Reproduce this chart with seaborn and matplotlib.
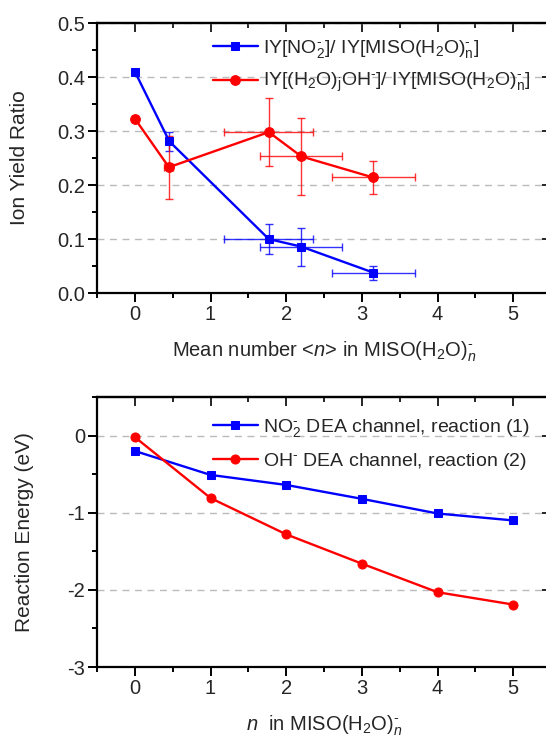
import matplotlib
matplotlib.use("Agg")
import matplotlib.pyplot as plt
import seaborn as sns
from matplotlib.ticker import MultipleLocator

# Top panel: ion yield ratios vs mean number <n>
no2_x = [0.0, 0.455, 1.77, 2.20, 3.15]
no2_y = [0.410, 0.281, 0.100, 0.086, 0.038]
no2_xerr = [0.0, 0.04, 0.59, 0.54, 0.55]
no2_yerr = [0.0, 0.018, 0.028, 0.035, 0.013]

oh_x = [0.0, 0.45, 1.77, 2.20, 3.15]
oh_y = [0.323, 0.233, 0.298, 0.253, 0.214]
oh_xerr = [0.0, 0.06, 0.59, 0.54, 0.55]
oh_yerr = [0.0, 0.058, 0.063, 0.072, 0.031]

# Bottom panel: reaction energies vs n
n_vals = [0, 1, 2, 3, 4, 5]
e_no2 = [-0.20, -0.51, -0.64, -0.82, -1.01, -1.10]
e_oh = [-0.02, -0.81, -1.28, -1.66, -2.03, -2.19]

sns.set_style("ticks")
plt.rcParams['font.family'] = ['Liberation Sans', 'DejaVu Sans']
plt.rcParams['mathtext.fontset'] = 'custom'
plt.rcParams['mathtext.rm'] = 'Liberation Sans'
plt.rcParams['mathtext.it'] = 'Liberation Sans:italic'
plt.rcParams['axes.unicode_minus'] = False

fig = plt.figure(figsize=(5.46, 7.42), dpi=100)
ax1 = fig.add_axes([0.1777, 0.605, 0.8315, 0.364])
ax2 = fig.add_axes([0.1777, 0.101, 0.8315, 0.364])


def style_axes(ax, xmaj, xmin, ymaj, ymin):
    for s in ax.spines.values():
        s.set_linewidth(1.6)
        s.set_color('black')
    ax.xaxis.set_major_locator(MultipleLocator(xmaj))
    ax.xaxis.set_minor_locator(MultipleLocator(xmin))
    ax.yaxis.set_major_locator(MultipleLocator(ymaj))
    ax.yaxis.set_minor_locator(MultipleLocator(ymin))
    ax.tick_params(which='both', direction='out', labelsize=14.5, width=1.4,
                   color='black', pad=2)
    ax.tick_params(which='major', length=6.5)
    ax.tick_params(which='minor', length=3.5)
    # mirrored ticks on top / right point inward
    top = ax.secondary_xaxis('top')
    top.xaxis.set_major_locator(MultipleLocator(xmaj))
    top.xaxis.set_minor_locator(MultipleLocator(xmin))
    right = ax.secondary_yaxis('right')
    right.yaxis.set_major_locator(MultipleLocator(ymaj))
    right.yaxis.set_minor_locator(MultipleLocator(ymin))
    for sec in (top, right):
        sec.tick_params(which='both', direction='in', width=1.4,
                        labeltop=False, labelright=False)
        sec.tick_params(which='major', length=6.5)
        sec.tick_params(which='minor', length=3.5)
        sec.spines[:].set_linewidth(1.6)
    ax.yaxis.grid(True, linestyle=(0, (5, 4)), color='#bbbbbb', linewidth=1)
    ax.xaxis.grid(False)
    ax.set_axisbelow(True)


leg_kw = dict(loc='upper left', frameon=False, fontsize=14, handlelength=2.3,
              handletextpad=0.3, labelspacing=0.6, borderaxespad=0.0)

# top panel
ax1.errorbar(no2_x, no2_y, xerr=no2_xerr, yerr=no2_yerr, fmt='none',
             ecolor='blue', elinewidth=1, capsize=3, alpha=0.8)
ax1.errorbar(oh_x, oh_y, xerr=oh_xerr, yerr=oh_yerr, fmt='none',
             ecolor='red', elinewidth=1, capsize=3, alpha=0.8)
sns.lineplot(x=no2_x, y=no2_y, ax=ax1, color='blue', marker='s', markersize=6,
             markeredgecolor='blue', linewidth=1.7,
             label=r'IY[NO$_2^{\text{-}}$]/ IY[MISO(H$_2$O)$_\mathrm{n}^{\text{-}}$]')
sns.lineplot(x=oh_x, y=oh_y, ax=ax1, color='red', marker='o', markersize=7,
             markeredgecolor='red', linewidth=1.7,
             label=r'IY[(H$_2$O)$_\mathrm{j}$OH$^{\text{-}}$]/ IY[MISO(H$_2$O)$_\mathrm{n}^{\text{-}}$]')
ax1.set_xlim(-0.5, 5.5)
ax1.set_ylim(0, 0.5)
style_axes(ax1, 1, 0.5, 0.1, 0.05)
ax1.set_yticks([0.0, 0.1, 0.2, 0.3, 0.4, 0.5])
ax1.set_yticklabels(['0.0', '0.1', '0.2', '0.3', '0.4', '0.5'])
ax1.set_xlabel(r'Mean number <$n$> in MISO(H$_2$O)$_n^{\text{-}}$', fontsize=14.5, labelpad=11)
ax1.set_ylabel('Ion Yield Ratio', fontsize=15, labelpad=20)
ax1.legend(bbox_to_anchor=(0.238, 0.975), **leg_kw)

# bottom panel
sns.lineplot(x=n_vals, y=e_no2, ax=ax2, color='blue', marker='s', markersize=6,
             markeredgecolor='blue', linewidth=1.7,
             label=r'NO$_2^{\text{-}}$ DEA channel, reaction (1)')
sns.lineplot(x=n_vals, y=e_oh, ax=ax2, color='red', marker='o', markersize=6.5,
             markeredgecolor='red', linewidth=1.7,
             label=r'OH$^{\text{-}}$ DEA channel, reaction (2)')
ax2.set_xlim(-0.5, 5.5)
ax2.set_ylim(-3, 0.5)
style_axes(ax2, 1, 0.5, 1, 0.5)
ax2.set_xlabel(r'$n$  in MISO(H$_2$O)$_n^{\text{-}}$', fontsize=14.5, labelpad=11)
ax2.set_ylabel('Reaction Energy (eV)', fontsize=15, labelpad=24)
ax2.legend(bbox_to_anchor=(0.238, 0.955), **leg_kw)

fig.savefig('out.png', dpi=100)
